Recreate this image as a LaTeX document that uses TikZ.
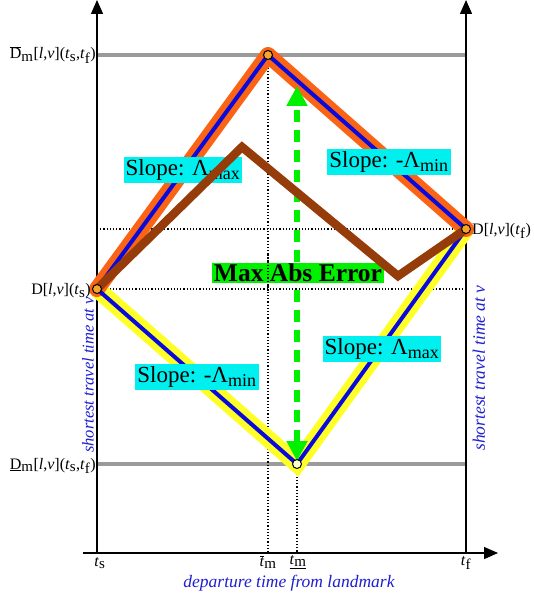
\documentclass[tikz,border=0pt]{standalone}
\usepackage{fontspec}
\setmainfont{Liberation Serif}
\usetikzlibrary{arrows.meta}
\definecolor{orng}{RGB}{250,100,20}
\definecolor{ylw}{RGB}{255,255,40}
\definecolor{blu}{RGB}{10,10,220}
\definecolor{brwn}{RGB}{150,60,10}
\definecolor{grn}{RGB}{0,240,0}
\definecolor{cyn}{RGB}{0,240,240}
\definecolor{gry}{RGB}{155,155,155}
\definecolor{txtblue}{RGB}{30,30,210}
\definecolor{dotorange}{RGB}{245,165,40}
\definecolor{dotyellow}{RGB}{255,255,205}
\tikzset{
  axisline/.style={line width=1.4pt,-{Triangle[width=12pt,length=14pt]}},
  guide/.style={line width=3.5pt,gry},
  dotline/.style={line width=1.1pt,dash pattern=on 1.2pt off 2pt},
  upper/.style={line width=16pt,orng,line join=round,line cap=round},
  lower/.style={line width=17pt,ylw,line join=miter},
  core/.style={line width=4pt,blu},
  actual/.style={line width=8.5pt,brwn,line join=miter},
  slopebox/.style={fill=cyn,inner xsep=2pt,inner ysep=3pt,font=\fontsize{23}{25}\selectfont},
  errbox/.style={fill=grn,inner xsep=2pt,inner ysep=1pt,font=\fontsize{25.5}{27}\selectfont\bfseries},
  leftlab/.style={anchor=east,inner sep=0pt,font=\fontsize{16}{18}\selectfont},
  ticklab/.style={inner sep=0pt,font=\fontsize{16}{18}\selectfont},
  axlab/.style={inner sep=0pt,text=txtblue,font=\fontsize{17.5}{19}\selectfont\itshape},
  knot/.style={circle,draw=black,line width=1pt,minimum size=9pt,inner sep=0pt},
}
\newcommand{\sbs}[1]{\textsubscript{\fontsize{15}{15}\selectfont #1}}
\newcommand{\bsbs}[1]{\textsubscript{\fontsize{18}{18}\selectfont #1}}
\begin{document}
\begin{tikzpicture}[x=1pt,y=-1pt]
\useasboundingbox (0,0) rectangle (533,601);
% coordinates
\coordinate (ts) at (97,289);
\coordinate (top) at (268,55);
\coordinate (tf) at (466,229);
\coordinate (bot) at (297,464);
\coordinate (b1) at (242,147);
\coordinate (b2) at (398,276);
\coordinate (axL0) at (97,553);
\coordinate (axL1) at (97,0);
\coordinate (axR0) at (466,553);
\coordinate (axR1) at (466,0);
\coordinate (axH0) at (83,553);
\coordinate (axH1) at (498,553);
% guide lines
\draw[guide] (97,55) -- (466,55);
\draw[guide] (97,464) -- (466,464);
\draw[dotline] (97,229) -- (tf);
\draw[dotline] (ts) -- (466,289);
\draw[dotline] (top) -- (268,553);
\draw[dotline] (bot) -- (297,553);
% axes
\draw[axisline] (axL0) -- (axL1);
\draw[axisline] (axR0) -- (axR1);
\draw[axisline] (axH0) -- (axH1);
% bounds
\draw[lower] (ts) -- (bot) -- (tf);
\draw[upper] (ts) -- (top) -- (tf);
\draw[core] (ts) -- (bot) -- (tf);
\draw[core] (ts) -- (top) -- (tf);
% error arrow
\draw[grn,line width=6pt,dash pattern=on 12pt off 8pt,{Triangle[width=20pt,length=20pt]}-{Triangle[width=20pt,length=20pt]}] (297,461) -- (297,86);
% slope labels
\node[slopebox] (s1) at (183,170) {Slope: Λ\bsbs{max}};
\node[slopebox] (s2) at (389,162) {Slope: -Λ\bsbs{min}};
\node[slopebox] (s3) at (197,377) {Slope: -Λ\bsbs{min}};
\node[slopebox] (s4) at (382,349) {Slope: Λ\bsbs{max}};
\node[errbox] (err) at (298,273) {Max Abs Error};
\draw[dotline] (268,255) -- (268,292);
% actual
\draw[actual] (ts) -- (b1) -- (b2) -- (tf);
% knots
\node[knot,fill=dotorange] (kts) at (ts) {};
\node[knot,fill=dotorange] (ktop) at (top) {};
\node[knot,fill=dotorange] (ktf) at (tf) {};
\node[knot,fill=dotyellow] (kbot) at (bot) {};
% value labels
\node[leftlab] (lmax) at (96,55) {$\overline{\hbox{D}}$\sbs{m}[\textit{l},\textit{v}](\textit{t}\sbs{s},\textit{t}\sbs{f})};
\node[leftlab] (lts) at (91,291) {D[\textit{l},\textit{v}](\textit{t}\sbs{s})};
\node[leftlab] (lmin) at (96,466) {\underline{D}\sbs{m}[\textit{l},\textit{v}](\textit{t}\sbs{s},\textit{t}\sbs{f})};
\node[leftlab,anchor=west] (ltf) at (472,231) {D[\textit{l},\textit{v}](\textit{t}\sbs{f})};
% tick labels
\node[ticklab] (xts) at (100,563) {\textit{t}\sbs{s}};
\node[ticklab] (xtm1) at (268,562) {$\overline{\hbox{\textit{t}}}$\sbs{m}};
\node[ticklab] (xtm2) at (298,562) {\underline{\textit{t}\sbs{m}}};
\node[ticklab] (xtf) at (466,563) {\textit{t}\sbs{f}};
% axis labels
\node[axlab] (xlab) at (289,583) {departure time from landmark};
\node[axlab,rotate=90,font=\fontsize{16.5}{18}\selectfont\itshape] (ylab1) at (88,375) {shortest travel time at v};
\node[axlab,rotate=90,font=\fontsize{17.5}{19}\selectfont\itshape] (ylab2) at (479,368) {shortest travel time at v};
\end{tikzpicture}
\end{document}
